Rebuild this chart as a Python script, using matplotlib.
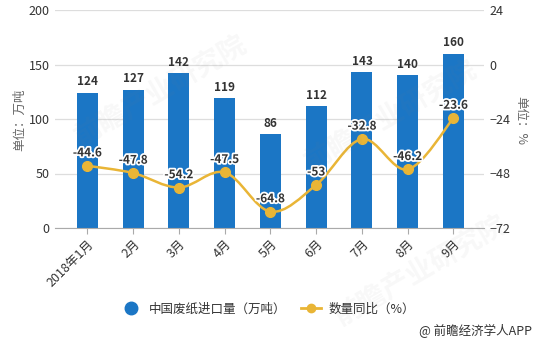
import matplotlib
matplotlib.use("Agg")
import matplotlib.pyplot as plt
import matplotlib.patheffects as pe
from matplotlib.path import Path
from matplotlib.patches import PathPatch
from matplotlib.lines import Line2D
import numpy as np

plt.rcParams['font.family'] = ['Noto Sans CJK SC', 'DejaVu Sans']

months = ["2018年1月", "2月", "3月", "4月", "5月", "6月", "7月", "8月", "9月"]
imports = [124, 127, 142, 119, 86, 112, 143, 140, 160]
yoy = [-44.6, -47.8, -54.2, -47.5, -64.8, -53, -32.8, -46.2, -23.6]
yoy_labels = ["-44.6", "-47.8", "-54.2", "-47.5", "-64.8", "-53", "-32.8", "-46.2", "-23.6"]
left_ticks = [0, 50, 100, 150, 200]
right_ticks = [-72, -48, -24, 0, 24]

BLUE = "#1b76c5"
GOLD = "#e9b536"
TXT = "#333333"
GRID = "#dddddd"

W, H = 538, 343
fig = plt.figure(figsize=(W / 100, H / 100), dpi=100)
ax = fig.add_axes([55 / W, 1 - 228 / H, (484 - 55) / W, (228 - 10) / H])
ax2 = ax.twinx()

x = np.arange(len(months))
ax.bar(x, imports, width=21 / 45.75, color=BLUE, zorder=2)
ax.set_xlim(-0.71, 8.667)
ax.set_ylim(0, 200)
ax2.set_ylim(-72, 24)
ax.set_yticks(left_ticks)
ax2.set_yticks(right_ticks)
ax.yaxis.grid(True, color=GRID, linewidth=0.9, zorder=0)
ax.set_axisbelow(True)

for s in ax.spines.values():
    s.set_visible(False)
for s in ax2.spines.values():
    s.set_visible(False)
ax.spines['bottom'].set_visible(True)
ax.spines['bottom'].set_color("#aaaaaa")

ax.tick_params(axis='y', length=0, labelsize=9, labelcolor=TXT, pad=4)
ax2.tick_params(axis='y', length=0, labelsize=9, labelcolor=TXT, pad=4)
ax.set_xticks(x)
ax.set_xticklabels(months, rotation=45, ha='right', rotation_mode='anchor',
                   fontsize=9, color=TXT)
ax.tick_params(axis='x', length=4, color="#aaaaaa", pad=3)

# value labels above the bars
for xi, v in zip(x, imports):
    ax.text(xi, v + 4, str(v), ha='center', va='bottom', fontsize=8.5,
            fontweight='bold', color=TXT, zorder=5)

# smooth curve through the growth-rate points (Catmull-Rom as cubic Bezier)
pts = np.column_stack([x, yoy]).astype(float)
verts = [tuple(pts[0])]
codes = [Path.MOVETO]
n = len(pts)
for i in range(n - 1):
    p0 = pts[i - 1] if i > 0 else pts[i]
    p1 = pts[i]
    p2 = pts[i + 1]
    p3 = pts[i + 2] if i + 2 < n else pts[i + 1]
    c1 = p1 + (p2 - p0) / 6.0
    c2 = p2 - (p3 - p1) / 6.0
    verts += [tuple(c1), tuple(c2), tuple(p2)]
    codes += [Path.CURVE4] * 3
ax2.add_patch(PathPatch(Path(verts, codes), facecolor='none', edgecolor=GOLD,
                        linewidth=1.8, zorder=3))
ax2.plot(x, yoy, linestyle='none', marker='o', markersize=7, color=GOLD, zorder=4)

halo = [pe.withStroke(linewidth=2.5, foreground='white')]
for xi, v, lab in zip(x, yoy, yoy_labels):
    ax2.text(xi, v + 2.8, lab, ha='center', va='bottom', fontsize=8.5,
             fontweight='bold', color=TXT, path_effects=halo, zorder=6)

ax2.set_zorder(ax.get_zorder() + 1)
ax2.patch.set_visible(False)

fig.text(20 / W, 1 - 120 / H, "单位：万吨", rotation=90, ha='center', va='center',
         fontsize=9, color="#666666")
fig.text(521 / W, 1 - 120 / H, "单位：%", rotation=270, ha='center', va='center',
         fontsize=9, color="#666666")

# legend
handles = [
    Line2D([], [], linestyle='none', marker='o', markersize=9, color=BLUE),
    Line2D([], [], color=GOLD, linewidth=2, marker='o', markersize=6),
]
fig.legend(handles, ["中国废纸进口量（万吨）", "数量同比（%）"], loc='center',
           bbox_to_anchor=(268 / W, 1 - 309 / H), ncol=2, frameon=False,
           fontsize=9, handlelength=1.6, columnspacing=1.2, handletextpad=0.6,
           labelcolor=TXT)

fig.text(532 / W, 1 - 331 / H, "@ 前瞻经济学人APP", ha='right', va='center',
         fontsize=9, color=TXT)

# faint watermark
for (wx, wy) in [(160 / W, 1 - 90 / H), (390 / W, 1 - 115 / H), (420 / W, 1 - 270 / H)]:
    fig.text(wx, wy, "前瞻产业研究院", rotation=30, ha='center', va='center',
             fontsize=20, fontweight='bold', color="#888888", alpha=0.06)

fig.savefig("out.png", dpi=100)
